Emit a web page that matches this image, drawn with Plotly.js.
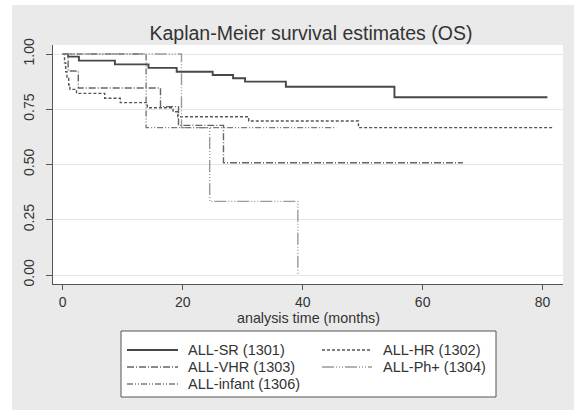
<!DOCTYPE html>
<html>
<head>
<meta charset="utf-8">
<script src="https://cdn.plot.ly/plotly-3.0.1.min.js"></script>
<style>
  html, body { margin: 0; padding: 0; background: #ffffff; }
  #chart { position: absolute; left: 12px; top: 5px; width: 562px; height: 405px; }
</style>
</head>
<body>
<div id="chart"></div>
<script>
// Kaplan-Meier step estimates for overall survival, by protocol group
const srTime    = [0, 0.9, 2.7, 8.7, 14.3, 19.0, 25.0, 28.4, 30.4, 37.2, 55.3, 80.8];
const srSurv    = [1, 0.988, 0.970, 0.953, 0.937, 0.920, 0.905, 0.890, 0.875, 0.852, 0.804, 0.804];

const hrTime    = [0, 0.3, 0.5, 0.7, 1.0, 1.2, 2.3, 7.0, 9.6, 14.1, 18.4, 19.2, 31.0, 49.3, 81.7];
const hrSurv    = [1, 0.96, 0.92, 0.89, 0.86, 0.84, 0.822, 0.800, 0.780, 0.757, 0.739, 0.716, 0.697, 0.667, 0.667];

const vhrTime   = [0, 0.9, 2.6, 16.3, 19.3, 26.8, 66.7];
const vhrSurv   = [1, 0.923, 0.846, 0.762, 0.677, 0.508, 0.508];

const phTime    = [0, 19.8, 24.5, 39.2];
const phSurv    = [1, 0.667, 0.333, 0];

const infTime   = [0, 13.9, 45.6];
const infSurv   = [1, 0.667, 0.667];

const groupNames = ['ALL-SR (1301)', 'ALL-HR (1302)', 'ALL-VHR (1303)', 'ALL-Ph+ (1304)', 'ALL-infant (1306)'];

const yTickVals = [0, 0.25, 0.5, 0.75, 1];
const yTickText = ['0.00', '0.25', '0.50', '0.75', '1.00'];
const xTickVals = [0, 20, 40, 60, 80];
const xTitle = 'analysis time (months)';

// Line styles per group (colour, width, dash pattern)
const groupStyles = [
  { color: '#474747', width: 1.9, dash: 'solid' },
  { color: '#555555', width: 1.4, dash: '3px,2px' },
  { color: '#656565', width: 1.4, dash: '7px,2px,1px,2px' },
  { color: '#9a9a9a', width: 1.4, dash: '12px,2px,1px,2px,1px,2px,1px,2px' },
  { color: '#7a7a7a', width: 1.4, dash: '6px,2px,1px,2px,1px,2px' }
];

const series = [
  [srTime, srSurv], [hrTime, hrSurv], [vhrTime, vhrSurv], [phTime, phSurv], [infTime, infSurv]
];

const traces = series.map(function (s, i) {
  return {
    x: s[0], y: s[1], name: groupNames[i], type: 'scatter', mode: 'lines',
    line: { shape: 'hv', color: groupStyles[i].color, width: groupStyles[i].width, dash: groupStyles[i].dash },
    hoverinfo: 'skip', showlegend: false
  };
});

// Plot-area geometry (px) used to place the x title and the boxed key beneath the axes
const W = 562, H = 405;
const M = { l: 41, r: 11, t: 40, b: 126 };
const plotW = W - M.l - M.r, plotH = H - M.t - M.b;
function px(x) { return (x - M.l) / plotW; }          // div px -> paper x
function py(y) { return (H - M.b - y) / plotH; }      // div px -> paper y

// Key layout: two columns, entries filled row by row
const keyBox = { x0: 109, x1: 484, y0: 326, y1: 392 };
const keyRows = [345, 362, 379];
const keyCols = [{ l0: 115, l1: 166, t: 174 }, { l0: 310, l1: 360, t: 369 }];

const shapes = [{
  type: 'rect', xref: 'paper', yref: 'paper',
  x0: px(keyBox.x0), x1: px(keyBox.x1), y0: py(keyBox.y1), y1: py(keyBox.y0),
  fillcolor: '#ffffff', line: { color: '#555555', width: 1 }, layer: 'below'
}];
const annotations = [{
  xref: 'paper', yref: 'paper', x: 0.5, y: py(313),
  xanchor: 'center', yanchor: 'middle', showarrow: false,
  text: xTitle, font: { size: 14.3, color: '#333333' }
}];
groupNames.forEach(function (name, i) {
  const row = Math.floor(i / 2), col = keyCols[i % 2];
  const yy = py(keyRows[row]);
  shapes.push({
    type: 'line', xref: 'paper', yref: 'paper',
    x0: px(col.l0), x1: px(col.l1), y0: yy, y1: yy,
    line: { color: groupStyles[i].color, width: groupStyles[i].width, dash: groupStyles[i].dash }
  });
  annotations.push({
    xref: 'paper', yref: 'paper', x: px(col.t), y: yy,
    xanchor: 'left', yanchor: 'middle', showarrow: false,
    text: name, font: { size: 14.5, color: '#333333' }
  });
});

const layout = {
  width: W, height: H,
  margin: M,
  paper_bgcolor: '#eaeaea',
  plot_bgcolor: '#ffffff',
  font: { family: 'Liberation Sans, Arial, sans-serif', color: '#333333', size: 14 },
  title: {
    text: 'Kaplan-Meier survival estimates (OS)',
    font: { size: 19.5, color: '#333333' },
    x: 0.532, xanchor: 'center', y: 0.93, yanchor: 'middle'
  },
  xaxis: {
    range: [-1.62, 83.4],
    tickvals: xTickVals,
    ticks: 'outside', ticklen: 5, tickcolor: '#555555',
    showgrid: false, zeroline: false,
    showline: true, linecolor: '#555555', linewidth: 1,
    tickfont: { size: 14 }
  },
  yaxis: {
    range: [-0.0407, 1.0407],
    tickvals: yTickVals, ticktext: yTickText, tickangle: -90,
    ticks: 'outside', ticklen: 6, tickcolor: '#555555',
    ticklabelstandoff: 6,
    showgrid: true, gridcolor: '#e6e6e6', gridwidth: 1,
    zeroline: false,
    showline: true, linecolor: '#555555', linewidth: 1,
    tickfont: { size: 14 }
  },
  showlegend: false,
  shapes: shapes,
  annotations: annotations
};

Plotly.newPlot('chart', traces, layout, { staticPlot: true, displayModeBar: false });
</script>
</body>
</html>
